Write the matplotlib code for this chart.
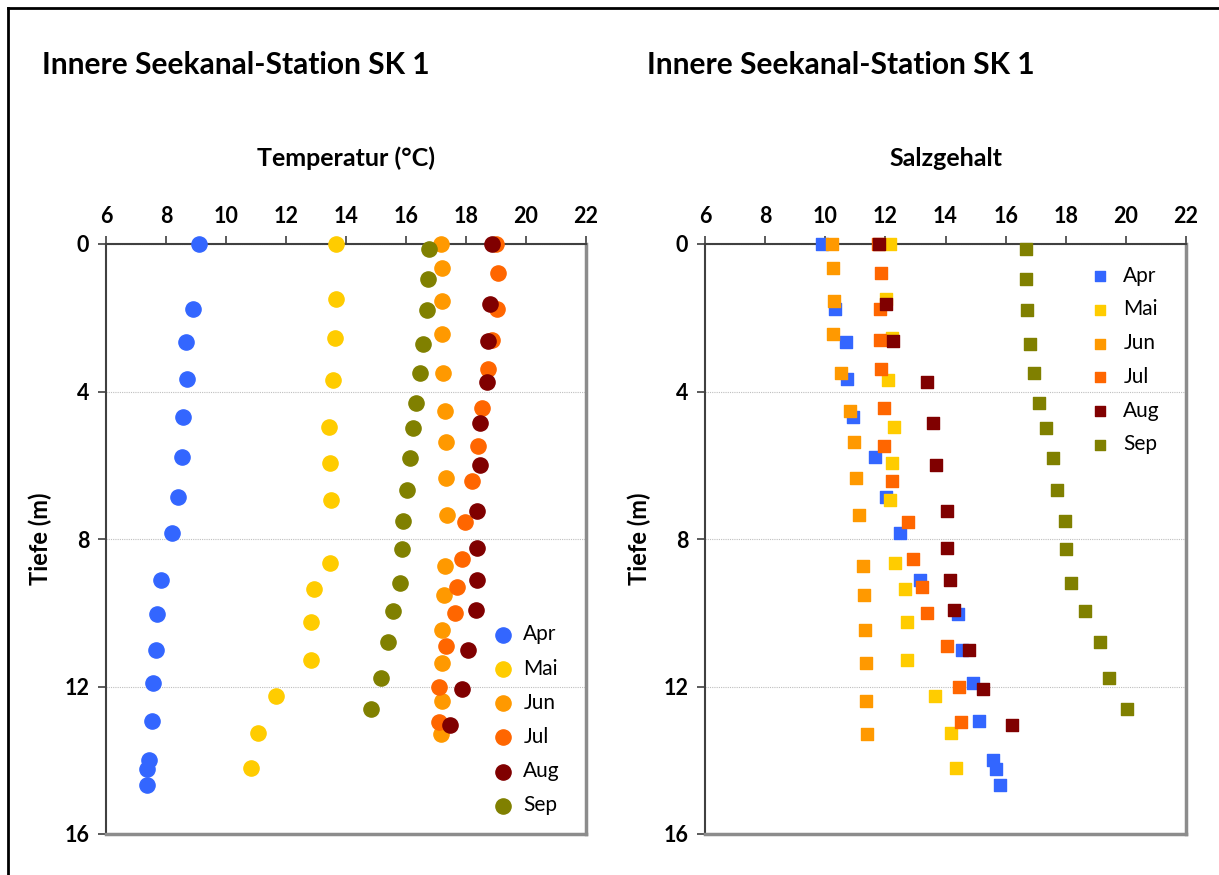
import matplotlib.pyplot as plt
from matplotlib.lines import Line2D

plt.rcParams['font.family'] = ['Lato', 'DejaVu Sans']

monate = ["Apr", "Mai", "Jun", "Jul", "Aug", "Sep"]
farben = ["#3366FF", "#FFCC00", "#FF9900", "#FF6600", "#800000", "#808000"]

# Tiefe (m) je Monat
tiefe_apr = [0, 1.75, 2.66, 3.66, 4.70, 5.78, 6.85, 7.83, 9.11, 10.04, 11.01, 11.9, 12.94, 13.98, 14.25, 14.67]
tiefe_mai = [0, 1.48, 2.54, 3.69, 4.95, 5.93, 6.93, 8.65, 9.35, 10.24, 11.27, 12.27, 13.27, 14.22]
tiefe_jun = [0, 0.64, 1.55, 2.45, 3.50, 4.53, 5.36, 6.34, 7.36, 8.73, 9.53, 10.46, 11.36, 12.38, 13.3]
tiefe_jul = [0, 0.79, 1.75, 2.59, 3.38, 4.45, 5.49, 6.43, 7.55, 8.55, 9.30, 10.0, 10.9, 12.02, 12.95]
tiefe_aug = [0, 1.62, 2.63, 3.74, 4.86, 5.98, 7.24, 8.24, 9.12, 9.92, 11.0, 12.08, 13.05]
tiefe_sep = [0.14, 0.94, 1.80, 2.70, 3.51, 4.30, 5.0, 5.8, 6.68, 7.52, 8.27, 9.19, 9.95, 10.8, 11.78, 12.6]

# Temperatur (°C)
temp_apr = [9.11, 8.90, 8.67, 8.71, 8.58, 8.52, 8.40, 8.20, 7.83, 7.69, 7.66, 7.58, 7.52, 7.44, 7.38, 7.37]
temp_mai = [13.68, 13.66, 13.63, 13.58, 13.44, 13.46, 13.51, 13.47, 12.94, 12.82, 12.83, 11.66, 11.06, 10.82]
temp_jun = [17.18, 17.21, 17.21, 17.19, 17.24, 17.29, 17.33, 17.34, 17.36, 17.31, 17.26, 17.21, 17.19, 17.19, 17.16]
temp_jul = [19.0, 19.08, 19.04, 18.88, 18.73, 18.54, 18.39, 18.19, 17.97, 17.86, 17.70, 17.63, 17.33, 17.11, 17.09]
temp_aug = [18.86, 18.8, 18.73, 18.70, 18.48, 18.47, 18.37, 18.37, 18.36, 18.32, 18.08, 17.88, 17.46]
temp_sep = [16.76, 16.72, 16.69, 16.58, 16.46, 16.34, 16.24, 16.12, 16.02, 15.9, 15.88, 15.8, 15.58, 15.39, 15.18, 14.83]

# Salzgehalt
salz_apr = [9.89, 10.33, 10.69, 10.73, 10.91, 11.65, 12.02, 12.49, 13.14, 14.40, 14.55, 14.92, 15.13, 15.59, 15.68, 15.80]
salz_mai = [12.16, 12.01, 12.21, 12.10, 12.30, 12.21, 12.16, 12.32, 12.66, 12.72, 12.72, 13.64, 14.18, 14.36]
salz_jun = [10.24, 10.25, 10.29, 10.27, 10.51, 10.81, 10.94, 11.03, 11.12, 11.24, 11.29, 11.32, 11.36, 11.37, 11.39]
salz_jul = [11.75, 11.84, 11.81, 11.82, 11.87, 11.94, 11.96, 12.23, 12.75, 12.92, 13.23, 13.37, 14.06, 14.45, 14.50]
salz_aug = [11.80, 12.02, 12.25, 13.39, 13.57, 13.68, 14.05, 14.05, 14.16, 14.27, 14.78, 15.26, 16.22]
salz_sep = [16.67, 16.68, 16.71, 16.80, 16.95, 17.11, 17.33, 17.56, 17.71, 17.96, 18.01, 18.19, 18.65, 19.13, 19.45, 20.05]

tiefen = [tiefe_apr, tiefe_mai, tiefe_jun, tiefe_jul, tiefe_aug, tiefe_sep]
temps = [temp_apr, temp_mai, temp_jun, temp_jul, temp_aug, temp_sep]
salze = [salz_apr, salz_mai, salz_jun, salz_jul, salz_aug, salz_sep]

fig = plt.figure(figsize=(12.19, 8.75), dpi=100)

# Rahmen
fig.add_artist(Line2D([8 / 1219, 8 / 1219], [0, 1 - 8 / 875], color="black", lw=2, transform=fig.transFigure))
fig.add_artist(Line2D([8 / 1219, 1], [1 - 8 / 875, 1 - 8 / 875], color="black", lw=2, transform=fig.transFigure))

ax1 = fig.add_axes([106 / 1219, 41 / 875, 480 / 1219, 590 / 875])
ax2 = fig.add_axes([705 / 1219, 41 / 875, 481 / 1219, 590 / 875])


def achse(ax, xlabel):
    ax.set_xlim(6, 22)
    ax.set_ylim(16, 0)
    ax.set_xticks(range(6, 23, 2))
    ax.set_yticks([0, 4, 8, 12, 16])
    ax.xaxis.tick_top()
    ax.tick_params(axis="both", direction="out", length=6, width=1.2, color="#404040",
                   labelsize=15.5, pad=6)
    for lab in ax.get_xticklabels() + ax.get_yticklabels():
        lab.set_fontweight("bold")
    ax.spines["left"].set_color("#404040")
    ax.spines["top"].set_color("#404040")
    ax.spines["left"].set_linewidth(1.5)
    ax.spines["top"].set_linewidth(1.5)
    ax.spines["right"].set_color("#8c8c8c")
    ax.spines["bottom"].set_color("#8c8c8c")
    ax.spines["right"].set_linewidth(2.5)
    ax.spines["bottom"].set_linewidth(2.5)
    ax.grid(axis="y", color="#bfbfbf", linestyle=(0, (1, 1)), linewidth=0.8)
    ax.set_axisbelow(True)
    ax.set_ylabel("Tiefe (m)", fontsize=17, fontweight="bold", labelpad=9)
    ax.set_title(xlabel, fontsize=18, fontweight="bold", pad=56)


for i in range(6):
    ax1.scatter(temps[i], tiefen[i], s=120, marker="o", color=farben[i], label=monate[i],
                clip_on=False, zorder=3)
    ax2.scatter(salze[i], tiefen[i], s=85, marker="s", color=farben[i], label=monate[i],
                clip_on=False, zorder=3)

achse(ax1, "Temperatur (°C)")
achse(ax2, "Salzgehalt")

ax1.legend(loc="lower right", frameon=False, fontsize=15, handletextpad=0.0,
           labelspacing=0.68, bbox_to_anchor=(0.985, 0.0), markerscale=1.0)
ax2.legend(loc="upper right", frameon=False, fontsize=15, handletextpad=0.1,
           labelspacing=0.66, bbox_to_anchor=(0.985, 0.995), markerscale=0.75)

fig.text(42 / 1219, 1 - 65 / 875, "Innere Seekanal-Station SK 1", fontsize=21.5,
         fontweight="bold", va="center", ha="left")
fig.text(647 / 1219, 1 - 65 / 875, "Innere Seekanal-Station SK 1", fontsize=21.5,
         fontweight="bold", va="center", ha="left")

fig.savefig("out.png", dpi=100)
